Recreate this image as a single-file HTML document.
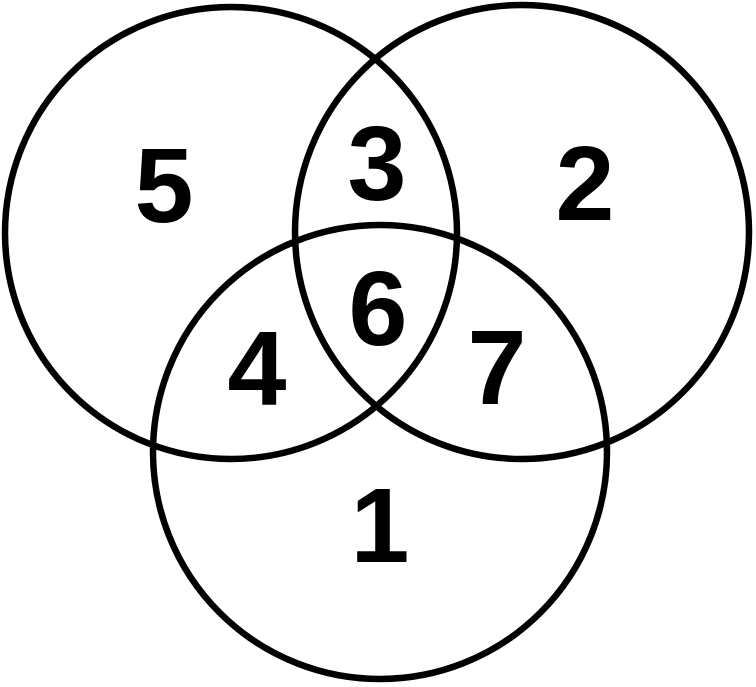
<!DOCTYPE html>
<html><head><style>html,body{margin:0;padding:0;background:#fff;}svg{display:block}</style></head>
<body>
<svg width="756" height="687" viewBox="0 0 756 687" xmlns="http://www.w3.org/2000/svg">
<g fill="none" stroke="#000" stroke-width="6.5">
<circle cx="231" cy="233" r="226"/>
<circle cx="522" cy="232" r="227"/>
<circle cx="380" cy="452" r="227"/>
</g>
<g font-family="Liberation Sans, sans-serif" font-weight="bold" font-size="106" text-anchor="middle">
<text x="164" y="222">5</text>
<text x="377" y="200">3</text>
<text x="585" y="220">2</text>
<text x="378" y="345">6</text>
<text x="257" y="405">4</text>
<text x="497" y="404">7</text>
<text x="380" y="562">1</text>
</g>
</svg>
</body></html>
